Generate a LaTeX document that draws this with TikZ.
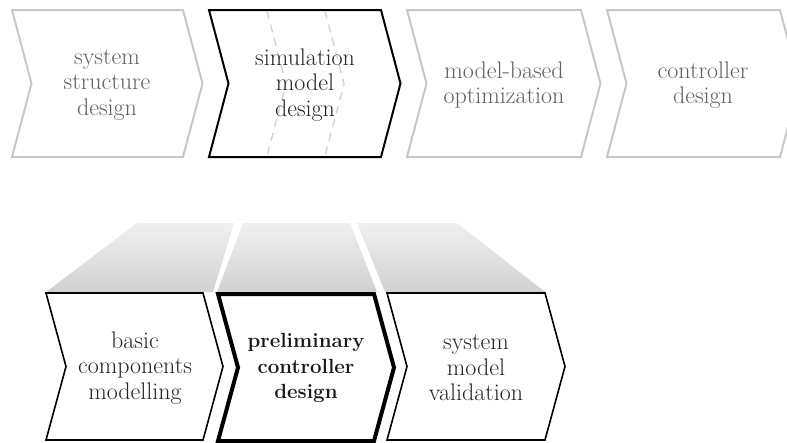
\documentclass[tikz,border=0pt]{standalone}
\usepackage{fontspec}
\tikzset{
  chev/.style={fill=white,line join=miter},
  grey chev/.style={chev,draw=black!22,line width=2pt},
  dark chev/.style={chev,draw=black,line width=1.6pt},
  step text/.style={align=center,font=\fontsize{24}{25.5}\selectfont},
  divider/.style={draw=black!18,line width=1.3pt,dash pattern=on 8pt off 6pt},
  zoom band/.style={top color=black!6,bottom color=black!18,draw=none},
}
% chevron: left x, top y, width (height 147)
\newcommand{\chevron}[3]{(#1,#2) -- ++(#3,0) -- ++(\dx,73.5) -- ++(-\dx,73.5) -- ++(-#3,0) -- ++(\dx,-73.5) -- cycle}
\begin{document}
\begin{tikzpicture}[x=1pt,y=-1pt]
\useasboundingbox (0,0) rectangle (787,442);
\def\dx{19.5}
% top row
\draw[grey chev] \chevron{12}{10}{171};
\draw[dark chev,line width=2pt] \chevron{209}{10}{172};
\draw[grey chev] \chevron{407}{10}{174};
\draw[grey chev] \chevron{607}{10}{173};
% thirds of the simulation step
\draw[divider] (267,11) -- (286,84) -- (267,156);
\draw[divider] (325,11) -- (344,84) -- (325,156);
\node[step text,text=black!62] (sysstruct) at (107,85) {system\\structure\\design};
\node[step text,text=black!85] (simmodel) at (305,85) {simulation\\model\\design};
\node[step text,text=black!62] (optim) at (504,85) {model-based\\optimization};
\node[step text,text=black!62] (ctrl) at (703,85) {controller\\design};
% zoomed bands
\shade[zoom band] (137,223) -- (234,223) -- (213,292) -- (46,292) -- cycle;
\shade[zoom band] (243,223) -- (350,223) -- (377,292) -- (217,292) -- cycle;
\shade[zoom band] (357,223) -- (457,223) -- (545,292) -- (385,292) -- cycle;
% bottom row
\def\dx{20}
\draw[dark chev] \chevron{46}{293}{157};
\draw[dark chev] \chevron{387}{293}{158};
\draw[dark chev,line width=4pt] \chevron{218}{294}{156};
\node[step text,text=black!85] (basic) at (135,368) {basic\\components\\modelling};
\node[step text,text=black!90,font=\fontsize{20.5}{25.5}\selectfont\bfseries] (prelim) at (306,368) {preliminary\\controller\\design};
\node[step text,text=black!85] (valid) at (476,368) {system\\model\\validation};
\end{tikzpicture}
\end{document}
